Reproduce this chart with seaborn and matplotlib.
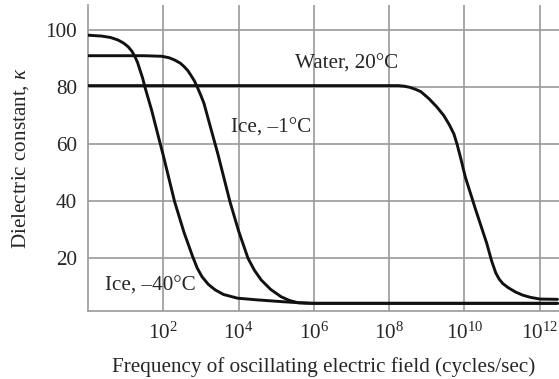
import numpy as np
import pandas as pd
import matplotlib
matplotlib.use('Agg')
import matplotlib.pyplot as plt
import seaborn as sns
from matplotlib.ticker import NullLocator

# curves: log10(frequency) and dielectric constant
ice40_exp = [0.0, 0.36, 0.6, 0.8, 0.95, 1.07, 1.17, 1.25, 1.32, 1.38, 1.45, 1.51, 1.69, 1.87, 2.0,
             2.30, 2.55, 2.78, 2.9, 3.03, 3.2, 3.38, 3.6, 3.97, 4.5, 5.13, 5.6, 6.0, 12.47]
ice40_val = [98.2, 97.9, 97.4, 96.5, 95.4, 94.1, 92.5, 90.6, 88.5, 86.0, 83.2, 80.1, 71.9, 62.6, 56.0,
             39.8, 29.0, 20.5, 16.5, 13.4, 10.7, 8.8, 7.2, 5.9, 5.3, 4.7, 4.3, 4.1, 4.1]

ice1_exp = [0.0, 1.5, 1.96, 2.15, 2.30, 2.45, 2.56, 2.65, 2.73, 2.82, 2.90, 3.0, 3.08, 3.25, 3.45,
            3.77, 4.0, 4.25, 4.42, 4.6, 4.85, 5.13, 5.35, 5.58, 5.9, 6.37, 12.47]
ice1_val = [91.0, 91.0, 90.8, 90.3, 89.5, 88.4, 87.1, 85.8, 84.2, 82.3, 80.1, 77.0, 74.3, 66.1, 56.5,
            39.8, 29.5, 19.9, 15.7, 12.3, 9.0, 6.4, 5.1, 4.3, 4.1, 4.1, 4.1]

water_exp = [0.0, 8.25, 8.4, 8.55, 8.7, 8.84, 9.05, 9.26, 9.45, 9.60, 9.72, 9.81, 9.9, 10.02, 10.30,
             10.59, 10.72, 10.83, 10.92, 11.02, 11.16, 11.35, 11.54, 11.75, 12.0, 12.47]
water_val = [80.5, 80.5, 80.3, 79.9, 79.2, 78.4, 76.0, 73.1, 70.0, 66.7, 63.5, 59.6, 55.0, 48.5, 36.8,
             25.2, 19.0, 14.8, 12.6, 11.0, 9.6, 8.1, 7.0, 6.2, 5.6, 5.5]

curve_labels = ['Water, 20°C', 'Ice, \u20131°C', 'Ice, \u201340°C']
label_x = [3.2e5, 6.3e3, 2.8]
label_y = [88.2, 65.5, 10.2]

x_tick_exps = [2, 4, 6, 8, 10, 12]
y_ticks = [20, 40, 60, 80, 100]

sns.set_style('white')
plt.rcParams['font.family'] = ['Liberation Serif', 'DejaVu Serif']
plt.rcParams['mathtext.fontset'] = 'custom'
plt.rcParams['mathtext.rm'] = 'Liberation Serif'
plt.rcParams['mathtext.it'] = 'Liberation Serif:italic'
plt.rc('font', size=15.2)

grid_color = '#9a9a9a'

fig = plt.figure(figsize=(5.59, 3.79), dpi=100)
ax = fig.add_axes([0.1574, 0.1794, 0.8426, 0.8074])

for exps, vals in [(ice40_exp, ice40_val), (ice1_exp, ice1_val), (water_exp, water_val)]:
    df = pd.DataFrame({'freq': 10.0 ** np.array(exps), 'kappa': vals})
    sns.lineplot(data=df, x='freq', y='kappa', ax=ax, color='#111111', lw=2.1,
                 estimator=None, sort=False, zorder=3)

ax.set_xscale('log')
ax.set_xlim(1, 10 ** 12.51)
ax.set_ylim(1.4, 108.8)

ax.set_xticks([10.0 ** e for e in x_tick_exps])
ax.set_xticklabels(['$10^{%d}$' % e for e in x_tick_exps])
ax.xaxis.set_minor_locator(NullLocator())
ax.set_yticks(y_ticks)
ax.set_yticklabels([str(v) for v in y_ticks])
ax.tick_params(axis='both', length=0)
ax.tick_params(axis='x', pad=8)
ax.tick_params(axis='y', pad=8)

ax.grid(True, color=grid_color, lw=1.2, zorder=0)
for side in ['top', 'right']:
    ax.spines[side].set_visible(False)
for side in ['left', 'bottom']:
    ax.spines[side].set_color(grid_color)
    ax.spines[side].set_linewidth(1.2)

for txt, x, y in zip(curve_labels, label_x, label_y):
    ax.text(x, y, txt, va='center', ha='left', zorder=4)

ax.set_xlabel('Frequency of oscillating electric field (cycles/sec)', labelpad=10)
ax.set_ylabel('Dielectric constant, $\\kappa$', labelpad=10)

fig.savefig('out.png', dpi=100)
